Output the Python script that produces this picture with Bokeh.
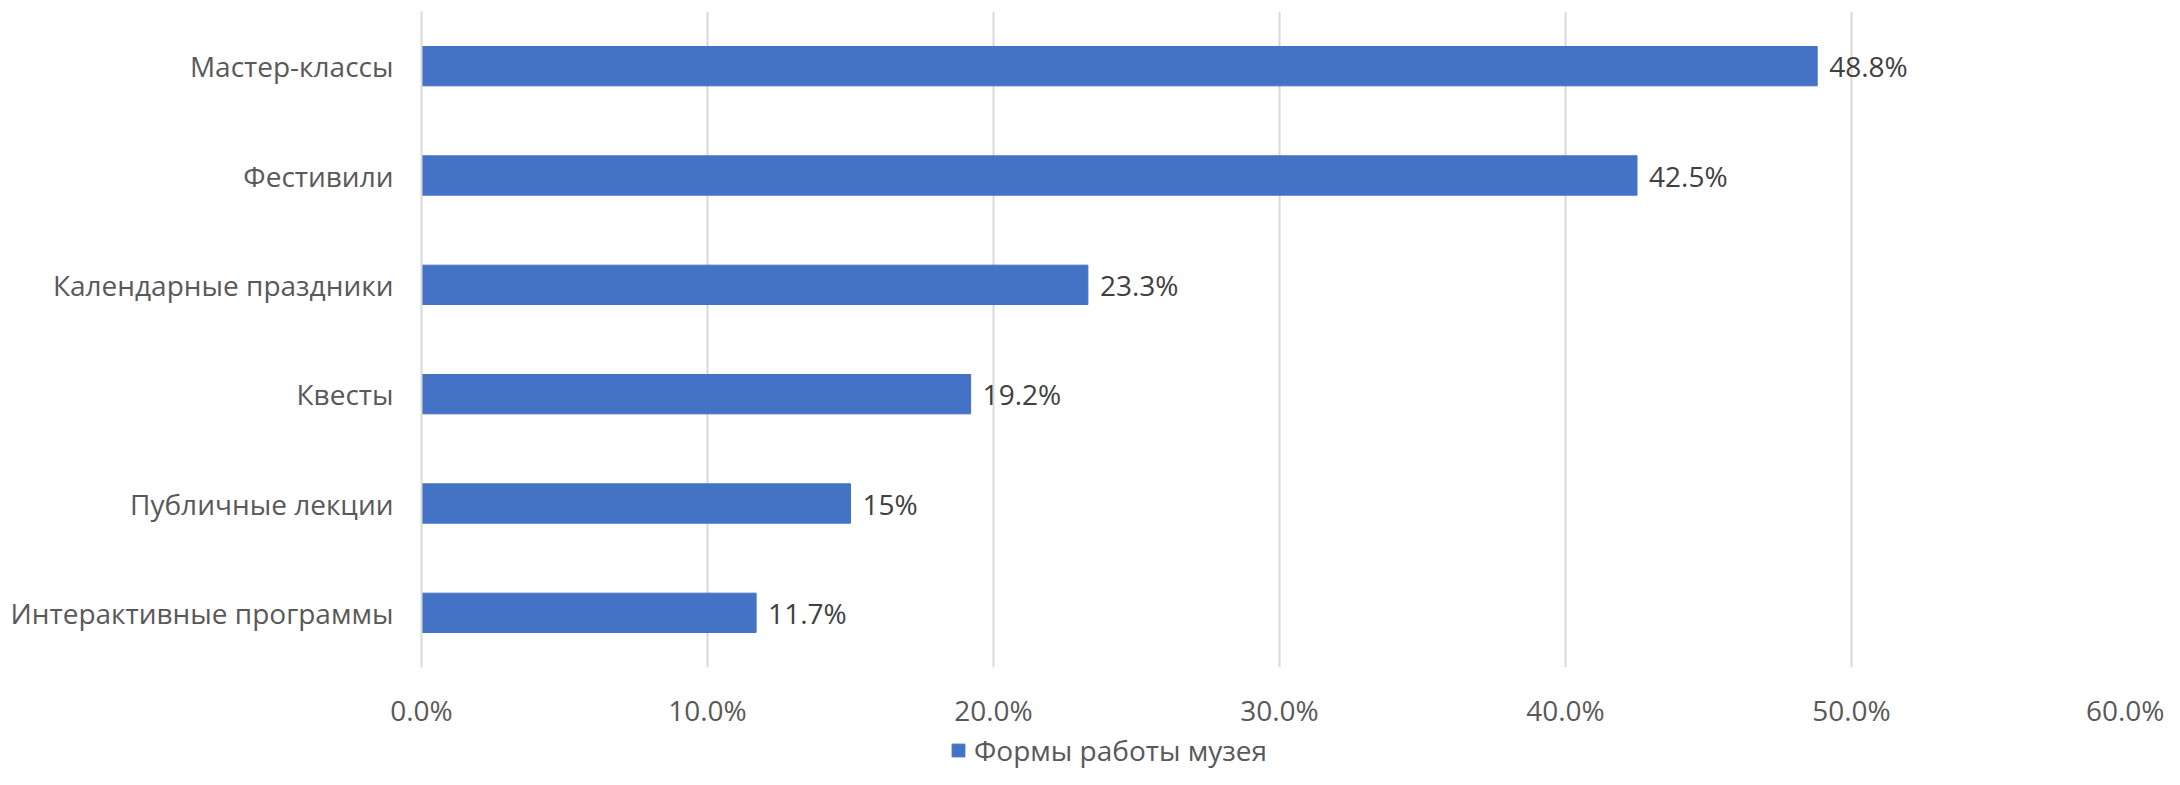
from bokeh.plotting import figure
from bokeh.models import ColumnDataSource, Legend, LegendItem, FixedTicker, Range1d
from bokeh.layouts import column
from bokeh.core.properties import value
from bokeh.embed import file_html
from bokeh.resources import INLINE

categories = ["Интерактивные программы", "Публичные лекции", "Квесты",
              "Календарные праздники", "Фестивили", "Мастер-классы"]
values = [11.7, 15.0, 19.2, 23.3, 42.5, 48.8]
labels = ["11.7%", "15%", "19.2%", "23.3%", "42.5%", "48.8%"]
x_ticks = [0, 10, 20, 30, 40, 50, 60]
series_name = "Формы работы музея"

FONT = "Open Sans"
FS = "28px"
BAR = "#4472C4"
W = 2164
LEG_H = 40
OVERLAP = 8
MAIN_H = 769 - LEG_H + OVERLAP

src = ColumnDataSource(dict(cat=categories, val=values, lab=labels))

p = figure(y_range=categories, x_range=Range1d(0, 60), width=W, height=MAIN_H,
           output_backend="svg", toolbar_location=None,
           min_border_left=421, min_border_right=27, min_border_top=11,
           min_border_bottom=MAIN_H - 667)
p.outline_line_color = None

r = p.hbar(y="cat", right="val", left=0, height=0.36, source=src,
           fill_color=BAR, line_color=BAR)

p.text(x="val", y="cat", text="lab", source=src, x_offset=12,
       text_font=value(FONT), text_font_size=FS, text_color="#404040",
       text_baseline="middle", text_align="left")

p.xaxis.ticker = FixedTicker(ticks=x_ticks)
p.xaxis.major_label_overrides = {t: f"{t:.1f}%" for t in x_ticks}
p.xaxis.axis_line_color = None
p.xaxis.major_tick_line_color = None
p.xaxis.minor_tick_line_color = None
p.xaxis.major_label_standoff = 17
p.xaxis.major_label_text_font = FONT
p.xaxis.major_label_text_font_size = FS
p.xaxis.major_label_text_color = "#595959"

p.yaxis.axis_line_color = "#D9D9D9"
p.yaxis.axis_line_width = 2
p.yaxis.major_tick_line_color = None
p.yaxis.minor_tick_line_color = None
p.yaxis.major_label_standoff = 22
p.yaxis.major_label_text_font = FONT
p.yaxis.major_label_text_font_size = FS
p.yaxis.major_label_text_color = "#595959"

p.ygrid.grid_line_color = None
p.xgrid.grid_line_color = "#D9D9D9"
p.xgrid.grid_line_width = 2

# legend strip below the chart
p2 = figure(y_range=categories, x_range=Range1d(0, 60), width=W, height=LEG_H,
            output_backend="svg", toolbar_location=None, min_border=0,
            margin=(-OVERLAP, 0, 0, 0))
p2.axis.visible = False
p2.grid.grid_line_color = None
p2.outline_line_color = None
p2.background_fill_alpha = 0
p2.border_fill_alpha = 0
r2 = p2.hbar(y="cat", right="val", left=0, height=0.36, source=src,
             fill_color=BAR, line_color=BAR, visible=False)

legend = Legend(items=[LegendItem(label=series_name, renderers=[r2])],
                orientation="horizontal", location=(529, 0),
                label_text_font=FONT, label_text_font_size=FS,
                label_text_color="#595959", glyph_width=16, glyph_height=16,
                border_line_color=None, background_fill_alpha=0,
                inactive_fill_alpha=0,
                padding=0, margin=0, label_standoff=8)
p2.add_layout(legend, "center")

layout = column(p, p2, spacing=0)
open("out.html", "w").write(file_html(layout, INLINE))
